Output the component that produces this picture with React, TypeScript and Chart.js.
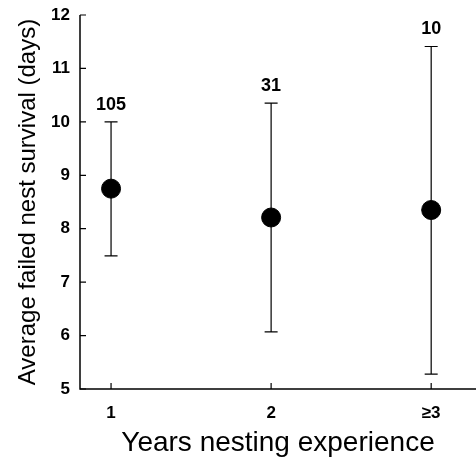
import React, { useEffect, useRef } from "react";
import { Chart, registerables } from "chart.js";

Chart.register(...registerables);

const categories = [1, 2, 3];
const tickLabels = ["1", "2", "≥3"];
const means = [8.75, 8.21, 8.35];
const upper = [10.0, 10.35, 11.41];
const lower = [7.49, 6.07, 5.28];
const sampleSizes = ["105", "31", "10"];
const yTicks = [5, 6, 7, 8, 9, 10, 11, 12];

const FONT = "'Liberation Sans', Arial, Helvetica, sans-serif";

const errorBarPlugin = {
  id: "errorBars",
  beforeDatasetsDraw(chart: any) {
    const { ctx, scales } = chart;
    const xs = scales.x;
    const ys = scales.y;
    ctx.save();
    ctx.strokeStyle = "#000";
    ctx.lineWidth = 1.2;
    categories.forEach((c, i) => {
      const x = xs.getPixelForValue(c);
      const yt = ys.getPixelForValue(upper[i]);
      const yb = ys.getPixelForValue(lower[i]);
      ctx.beginPath();
      ctx.moveTo(x, yt);
      ctx.lineTo(x, yb);
      ctx.moveTo(x - 6.5, yt);
      ctx.lineTo(x + 6.5, yt);
      ctx.moveTo(x - 6.5, yb);
      ctx.lineTo(x + 6.5, yb);
      ctx.stroke();
      ctx.fillStyle = "#000";
      ctx.font = `bold 18px ${FONT}`;
      ctx.textAlign = "center";
      ctx.textBaseline = "middle";
      ctx.fillText(sampleSizes[i], x, yt - 17);
    });
    ctx.restore();
  },
  afterDraw(chart: any) {
    const { ctx, scales, chartArea } = chart;
    const xs = scales.x;
    const ys = scales.y;
    ctx.save();
    ctx.strokeStyle = "#000";
    ctx.lineWidth = 1.5;
    ctx.beginPath();
    ctx.moveTo(chartArea.left, chartArea.top);
    ctx.lineTo(chartArea.left, chartArea.bottom);
    ctx.lineTo(chartArea.right, chartArea.bottom);
    ctx.stroke();
    ctx.lineWidth = 1.2;
    ctx.beginPath();
    yTicks.forEach((v) => {
      const y = ys.getPixelForValue(v);
      ctx.moveTo(chartArea.left, y);
      ctx.lineTo(chartArea.left + 6, y);
    });
    categories.forEach((c) => {
      const x = xs.getPixelForValue(c);
      ctx.moveTo(x, chartArea.bottom);
      ctx.lineTo(x, chartArea.bottom - 6);
    });
    ctx.stroke();
    ctx.restore();
  },
};

export default function App() {
  const ref = useRef<HTMLCanvasElement | null>(null);
  useEffect(() => {
    if (!ref.current) return;
    const chart = new Chart(ref.current, {
      type: "scatter",
      data: {
        datasets: [
          {
            data: categories.map((c, i) => ({ x: c, y: means[i] })),
            backgroundColor: "#000",
            borderColor: "#000",
            pointRadius: 9.5,
            pointHoverRadius: 9.5,
          },
        ],
      },
      options: {
        animation: false,
        responsive: false,
        devicePixelRatio: 1,
        layout: { autoPadding: false, padding: { top: 15, right: 0, left: 0, bottom: 0 } },
        plugins: {
          legend: { display: false },
          tooltip: { enabled: false },
        },
        scales: {
          x: {
            type: "linear",
            min: 0.806,
            max: 3.28,
            grid: { display: false, drawTicks: false },
            border: { display: false },
            afterBuildTicks: (s: any) => {
              s.ticks = categories.map((v) => ({ value: v }));
            },
            afterFit: (s: any) => {
              s.height = 68;
              s.paddingLeft = 0;
              s.paddingRight = 0;
            },
            ticks: {
              color: "#000",
              font: { family: FONT, size: 17, weight: "bold" },
              padding: 14,
              maxRotation: 0,
              autoSkip: false,
              callback: (v: any) => tickLabels[categories.indexOf(Number(v))] ?? "",
            },
            title: {
              display: true,
              text: "Years nesting experience",
              color: "#000",
              font: { family: FONT, size: 28, lineHeight: 1 },
              padding: { top: 0, bottom: 0 },
            },
          },
          y: {
            type: "linear",
            min: 5,
            max: 12,
            grid: { display: false, drawTicks: false },
            border: { display: false },
            afterBuildTicks: (s: any) => {
              s.ticks = yTicks.map((v) => ({ value: v }));
            },
            afterFit: (s: any) => {
              s.width = 80;
              s.paddingTop = 0;
              s.paddingBottom = 0;
            },
            ticks: {
              color: "#000",
              font: { family: FONT, size: 17, weight: "bold" },
              padding: 10,
              autoSkip: false,
            },
            title: {
              display: true,
              text: "Average failed nest survival (days)",
              color: "#000",
              font: { family: FONT, size: 24, lineHeight: 1 },
              padding: { top: 16, bottom: 0 },
            },
          },
        },
      },
      plugins: [errorBarPlugin],
    });
    return () => chart.destroy();
  }, []);
  return (
    <div style={{ position: "fixed", left: 0, top: 0, width: 476, height: 457, background: "#fff" }}>
      <canvas ref={ref} width={476} height={457} style={{ width: 476, height: 457 }} />
    </div>
  );
}
